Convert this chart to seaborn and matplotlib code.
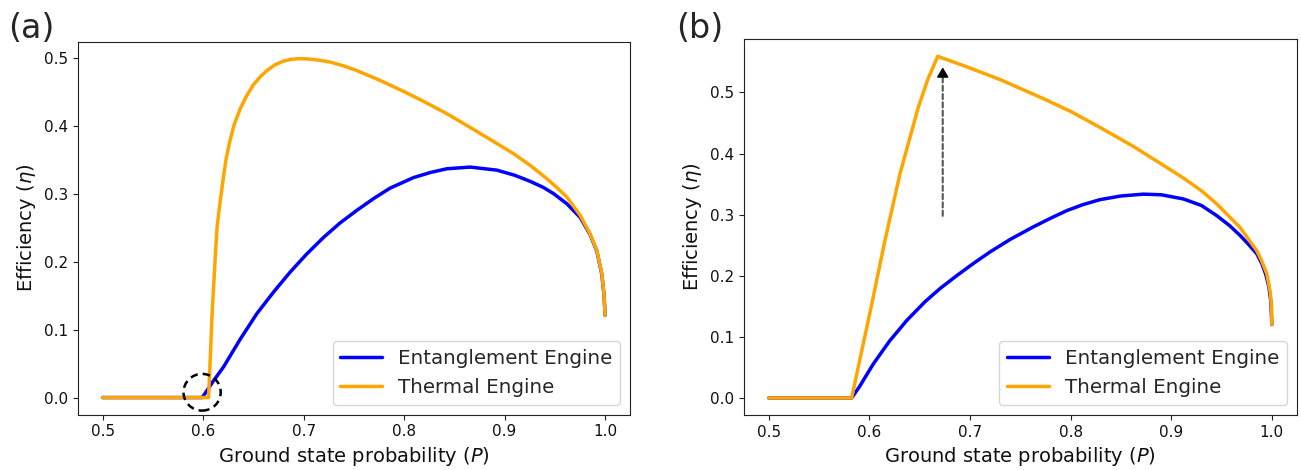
import matplotlib
matplotlib.use("Agg")
import matplotlib.pyplot as plt
import seaborn as sns
from matplotlib.patches import Ellipse

# ---------------- data ----------------
# panel (a)
a_ent_P = [0.500, 0.599, 0.6019, 0.610, 0.6203, 0.637, 0.6535, 0.670, 0.6867, 0.703,
           0.7198, 0.736, 0.753, 0.770, 0.786, 0.8093, 0.826, 0.8425, 0.8658, 0.8923,
           0.910, 0.9255, 0.9387, 0.9487, 0.962, 0.9752, 0.985, 0.9918, 0.9968, 0.999,
           1.000]
a_ent_eta = [0.0, 0.0, 0.006, 0.024, 0.045, 0.086, 0.1235, 0.155, 0.1847, 0.211,
             0.2355, 0.2565, 0.2754, 0.293, 0.308, 0.3235, 0.331, 0.3365, 0.339, 0.3345,
             0.327, 0.318, 0.309, 0.300, 0.285, 0.265, 0.240, 0.2155, 0.181, 0.150,
             0.121]
a_th_P = [0.500, 0.6054, 0.6075, 0.609, 0.6106, 0.6122, 0.6139, 0.6171, 0.6203, 0.623,
          0.6263, 0.631, 0.637, 0.643, 0.650, 0.657, 0.6635, 0.671, 0.680, 0.6875,
          0.695, 0.705, 0.7155, 0.7265, 0.740, 0.753, 0.776, 0.800, 0.820, 0.8425,
          0.865, 0.8875, 0.9089, 0.926, 0.942, 0.952, 0.962, 0.9752, 0.985, 0.9918,
          0.9968, 0.999, 1.000]
a_th_eta = [0.0, 0.0, 0.07, 0.125, 0.168, 0.21, 0.251, 0.29, 0.325, 0.352,
            0.375, 0.402, 0.425, 0.443, 0.460, 0.472, 0.481, 0.489, 0.495, 0.4975,
            0.4985, 0.498, 0.4962, 0.4935, 0.4878, 0.481, 0.4666, 0.450, 0.4352, 0.4176,
            0.398, 0.378, 0.3588, 0.341, 0.322, 0.309, 0.295, 0.268, 0.241, 0.2166,
            0.182, 0.150, 0.121]

# panel (b)
b_ent_P = [0.500, 0.5824, 0.590, 0.6039, 0.620, 0.637, 0.655, 0.6702, 0.6867, 0.7033,
           0.720, 0.740, 0.763, 0.780, 0.7961, 0.8125, 0.8292, 0.850, 0.8723, 0.890,
           0.912, 0.930, 0.9452, 0.958, 0.9684, 0.977, 0.985, 0.990, 0.994, 0.997,
           0.999, 1.000]
b_ent_eta = [0.0, 0.0, 0.018, 0.0556, 0.093, 0.1265, 0.157, 0.179, 0.200, 0.220,
             0.239, 0.2595, 0.280, 0.294, 0.3065, 0.3165, 0.3245, 0.3305, 0.3335, 0.3325,
             0.3257, 0.315, 0.2984, 0.282, 0.266, 0.251, 0.236, 0.220, 0.202, 0.182,
             0.158, 0.120]
b_th_P = [0.500, 0.5824, 0.6023, 0.6155, 0.6304, 0.6486, 0.658, 0.6679, 0.680, 0.700,
          0.730, 0.770, 0.800, 0.830, 0.862, 0.890, 0.912, 0.930, 0.945, 0.9684,
          0.985, 0.990, 0.995, 0.9985, 0.9998, 1.000]
b_th_eta = [0.0, 0.0, 0.153, 0.258, 0.3666, 0.4756, 0.521, 0.559, 0.552, 0.540,
            0.521, 0.492, 0.469, 0.442, 0.412, 0.383, 0.360, 0.339, 0.318, 0.279,
            0.241, 0.224, 0.203, 0.172, 0.145, 0.120]

series_labels = ["Entanglement Engine", "Thermal Engine"]
series_colors = ["#0000ff", "#ffa500"]
panel_labels = ["(a)", "(b)"]
xlabel = "Ground state probability ($P$)"
ylabel = "Efficiency ($\\eta$)"

# annotations
circle_center = (0.599, 0.0078)
arrow_x = 0.6729
arrow_y0, arrow_y1 = 0.298, 0.541

# ---------------- plotting ----------------
sns.set_style("ticks")
plt.rcParams["font.family"] = ["DejaVu Sans"]
plt.rcParams["xtick.labelsize"] = 11
plt.rcParams["ytick.labelsize"] = 11
plt.rcParams["axes.edgecolor"] = "#222222"

W, H = 1301, 470
fig = plt.figure(figsize=(W / 100, H / 100), dpi=100)
ax1 = fig.add_axes([77.5 / W, 1 - 414.5 / H, (630.2 - 77.5) / W, (414.5 - 41.7) / H])
ax2 = fig.add_axes([743.6 / W, 1 - 415 / H, (1297 - 743.6) / W, (415 - 39.3) / H])

data = [((a_ent_P, a_ent_eta), (a_th_P, a_th_eta)),
        ((b_ent_P, b_ent_eta), (b_th_P, b_th_eta))]

for ax, series in zip([ax1, ax2], data):
    for (P, eta), lab, col in zip(series, series_labels, series_colors):
        sns.lineplot(x=P, y=eta, sort=False, estimator=None, color=col,
                     linewidth=2.5, label=lab, ax=ax)
    ax.set_xlabel(xlabel, fontsize=14, color="#111111")
    ax.set_ylabel(ylabel, fontsize=14, color="#111111")
    ax.set_xticks([0.5, 0.6, 0.7, 0.8, 0.9, 1.0])
    ax.set_yticks([0.0, 0.1, 0.2, 0.3, 0.4, 0.5])
    ax.tick_params(colors="#222222", labelcolor="#111111")
    ax.legend(loc="lower right", fontsize=14.3, frameon=True, fancybox=True,
              edgecolor="#cccccc", framealpha=0.8, handlelength=2.1)

# dashed circle in (a)
ell = Ellipse(circle_center, width=0.037, height=0.054, fill=False,
              edgecolor="black", linestyle=(0, (3, 2)), linewidth=1.8, zorder=5)
ax1.add_patch(ell)

# dashed arrow in (b)
ax2.annotate("", xy=(arrow_x, arrow_y1 - 0.012), xytext=(arrow_x, arrow_y0),
             arrowprops=dict(arrowstyle="-", color="#555555", lw=1.5,
                             linestyle=(0, (2.5, 1.5)), shrinkA=0, shrinkB=0))
ax2.annotate("", xy=(arrow_x, arrow_y1), xytext=(arrow_x, arrow_y1 - 0.015),
             arrowprops=dict(arrowstyle="-|>,head_length=0.6,head_width=0.36",
                             color="black", lw=1.0, shrinkA=0, shrinkB=0))

# panel labels
fig.text(31.7 / W, 1 - 29 / H, panel_labels[0], fontsize=24, ha="center", va="center")
fig.text(700 / W, 1 - 28 / H, panel_labels[1], fontsize=24, ha="center", va="center")

fig.savefig("out.png", dpi=100)
